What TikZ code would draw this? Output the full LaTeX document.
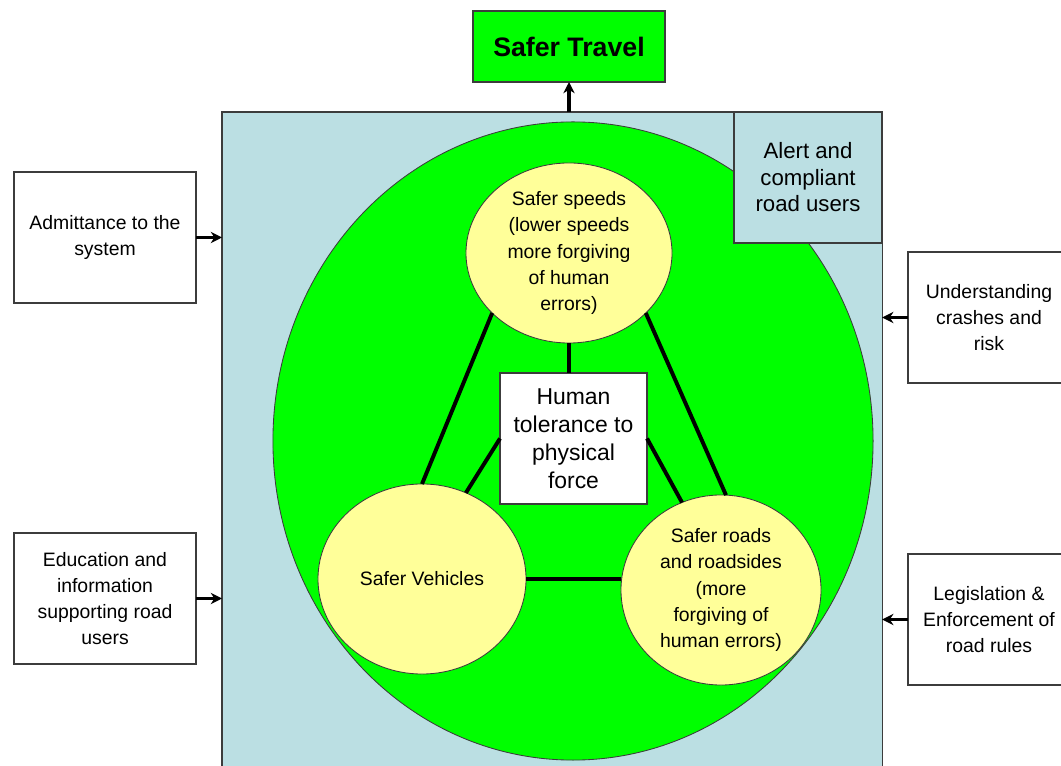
\documentclass[tikz,border=0pt]{standalone}
\usepackage{fontspec}
\setmainfont{Liberation Sans}
\usetikzlibrary{arrows.meta,shapes.geometric}
\definecolor{greenc}{RGB}{0,255,0}
\definecolor{skyc}{RGB}{187,223,227}
\definecolor{yellc}{RGB}{255,255,153}
\definecolor{edgec}{RGB}{60,60,60}
\newcommand{\fsmall}{\fontsize{13.8}{18.6}\selectfont}
\newcommand{\fbig}{\fontsize{15.8}{18.8}\selectfont}

\begin{document}
\begin{tikzpicture}[x=0.025cm, y=-0.025cm, >={Stealth[length=8pt,width=8pt]},
  box/.style={draw=edgec, line width=0.8pt, fill=white, inner sep=0pt, outer sep=0pt,
    align=center, minimum height=3.275cm, font=\fsmall},
  oval/.style={ellipse, draw=edgec, line width=0.6pt, fill=yellc, inner sep=0pt, outer sep=0pt},
  link/.style={line width=2.8pt},
  feed/.style={->, line width=2.5pt}]
  \useasboundingbox (0,0) rectangle (1061,766);

  % the road system: light blue field, open at the bottom edge
  \node[fill=skyc, inner sep=0pt, outer sep=0pt, minimum width=16.5cm, minimum height=17cm,
    anchor=north west] (sys) at (222,112) {};
  \draw[edgec, line width=0.8pt] (sys.south west) |- (sys.north east) -- (sys.south east);

  % green safe system disc
  \draw[edgec, line width=0.6pt, fill=greenc] (573,441) ellipse [x radius=7.5cm, y radius=7.975cm];

  % outcome on top
  \node[box, fill=greenc, minimum width=4.8cm, minimum height=1.775cm,
    font=\fontsize{19}{22}\selectfont\bfseries] (travel) at (569,46.5) {Safer Travel};
  \draw[feed] (travel |- sys.north) -- (travel);

  % corner box inside the field
  \node[box, fill=skyc, minimum width=3.7cm, font=\fbig] (alert) at (808,177.5)
    {Alert and\\compliant\\road users};

  % the three pillars
  \node[oval, minimum width=5.15cm, minimum height=4.5cm,
    label={[align=center, font=\fsmall]center:Safer speeds\\(lower speeds\\more forgiving\\of human\\errors)}]
    (speed) at (569,253) {};
  \node[oval, minimum width=5.2cm, minimum height=4.75cm,
    label={[font=\fsmall]center:Safer Vehicles}] (veh) at (422,579) {};
  \node[oval, minimum width=5cm, minimum height=4.75cm,
    label={[align=center, font=\fsmall]center:Safer roads\\and roadsides\\(more\\forgiving of\\human errors)}]
    (road) at (721,590) {};

  % centre: human tolerance
  \node[box, minimum width=3.675cm, font=\fontsize{16.3}{19.9}\selectfont] (tol) at (573.5,438.5)
    {Human\\tolerance to\\physical\\force};

  % triangle + spokes
  \draw[link] (speed.218) -- (veh.north);
  \draw[link] (speed.322) -- (road.87);
  \draw[link] (veh.east) -- (veh.east -| road.west);
  \draw[link] (speed.south) -- (speed.south |- tol.north);
  \draw[link] (tol.west) -- (veh.63);
  \draw[link] (tol.east) -- (road.114);

  % inputs from the left
  \node[box, minimum width=4.55cm] (admit) at (105,237.5) {Admittance to the\\system};
  \node[box, minimum width=4.55cm] (educ) at (105,598.5)
    {Education and\\information\\supporting road\\users};
  \draw[feed] (admit) -- (admit -| sys.west);
  \draw[feed] (educ) -- (educ -| sys.west);

  % inputs from the right (cut by the page edge)
  \node[box, minimum width=4.05cm] (under) at (989,317.5) {Understanding\\crashes and\\risk};
  \node[box, minimum width=4.05cm] (legis) at (989,619.5)
    {Legislation \&\\Enforcement of\\road rules};
  \draw[feed] (under) -- (under -| sys.east);
  \draw[feed] (legis) -- (legis -| sys.east);

\end{tikzpicture}
\end{document}
